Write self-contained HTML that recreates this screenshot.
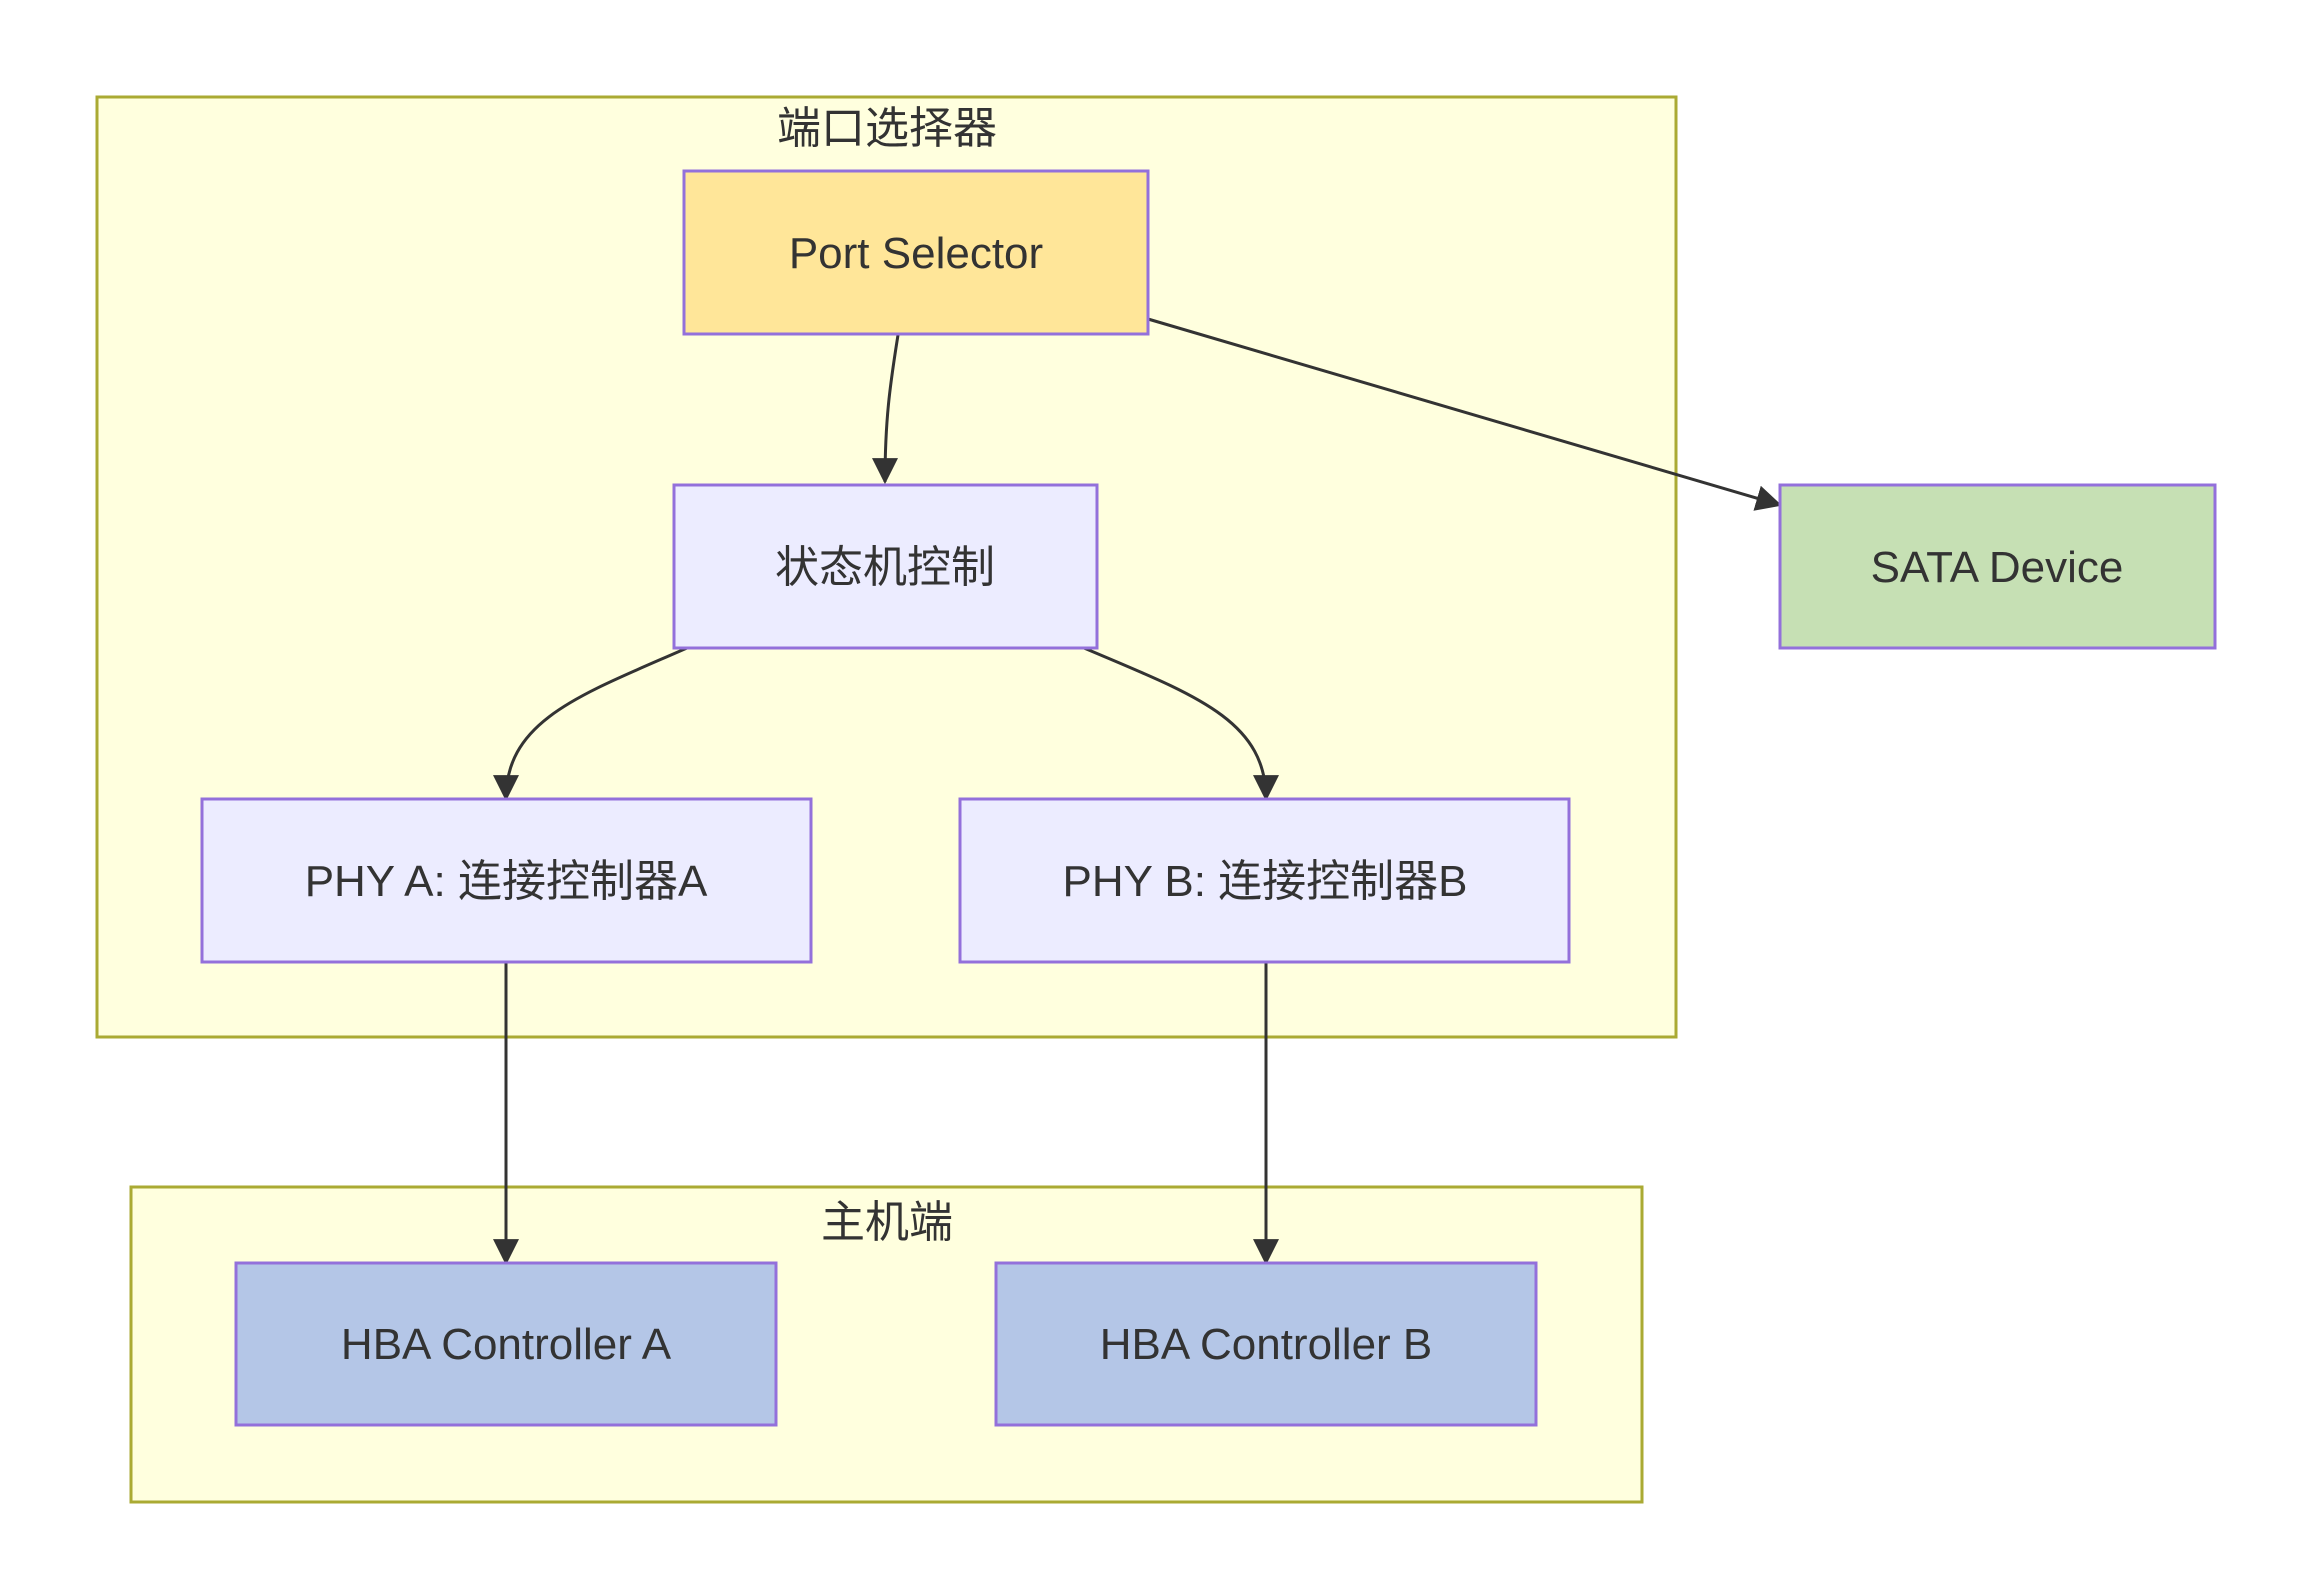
<!DOCTYPE html>
<html><head><meta charset="utf-8"><style>
html,body{margin:0;padding:0;background:#fff;}
svg{display:block;}
text{font-family:"Liberation Sans","Noto Sans CJK SC",sans-serif;fill:#333;}
</style></head><body>
<svg width="2301" height="1590" viewBox="0 0 2301 1590" xmlns="http://www.w3.org/2000/svg">
<defs>
<marker id="ar" viewBox="0 0 10 10" refX="9" refY="5" markerWidth="8" markerHeight="8" markerUnits="userSpaceOnUse" orient="auto">
</marker>
<marker id="a" viewBox="0 0 12 12" refX="11" refY="6" markerWidth="26" markerHeight="26" orient="auto" markerUnits="userSpaceOnUse"><path d="M0,0 L12,6 L0,12 z" fill="#333"/></marker>
</defs>
<rect x="97" y="97" width="1579" height="940" fill="#ffffde" stroke="#aaaa33" stroke-width="3"/>
<text x="887" y="143" font-size="44" text-anchor="middle">端口选择器</text>
<rect x="131" y="1187" width="1511" height="315" fill="#ffffde" stroke="#aaaa33" stroke-width="3"/>
<text x="887" y="1237" font-size="44" text-anchor="middle">主机端</text>

<g fill="none" stroke="#333" stroke-width="3">
<path d="M898,335 C890,385 885,420 885,482" marker-end="url(#a)"/>
<path d="M1148,319 L1780,505" marker-end="url(#a)"/>
<path d="M687,648 C580,695 506,720 506,799" marker-end="url(#a)"/>
<path d="M1084,648 C1195,695 1266,720 1266,799" marker-end="url(#a)"/>
<path d="M506,962 L506,1263" marker-end="url(#a)"/>
<path d="M1266,962 L1266,1263" marker-end="url(#a)"/>
</g>

<g stroke="#9370db" stroke-width="3">
<rect x="684" y="171" width="464" height="163" fill="#ffe699"/>
<rect x="674" y="485" width="423" height="163" fill="#ececff"/>
<rect x="1780" y="485" width="435" height="163" fill="#c6e0b4"/>
<rect x="202" y="799" width="609" height="163" fill="#ececff"/>
<rect x="960" y="799" width="609" height="163" fill="#ececff"/>
<rect x="236" y="1263" width="540" height="162" fill="#b4c6e7"/>
<rect x="996" y="1263" width="540" height="162" fill="#b4c6e7"/>
</g>

<g font-size="44" text-anchor="middle">
<text x="916" y="268">Port Selector</text>
<text x="885" y="582">状态机控制</text>
<text x="1997" y="582">SATA Device</text>
<text x="506" y="896">PHY A: 连接控制器A</text>
<text x="1265" y="896">PHY B: 连接控制器B</text>
<text x="506" y="1359">HBA Controller A</text>
<text x="1266" y="1359">HBA Controller B</text>
</g>
</svg>
</body></html>
